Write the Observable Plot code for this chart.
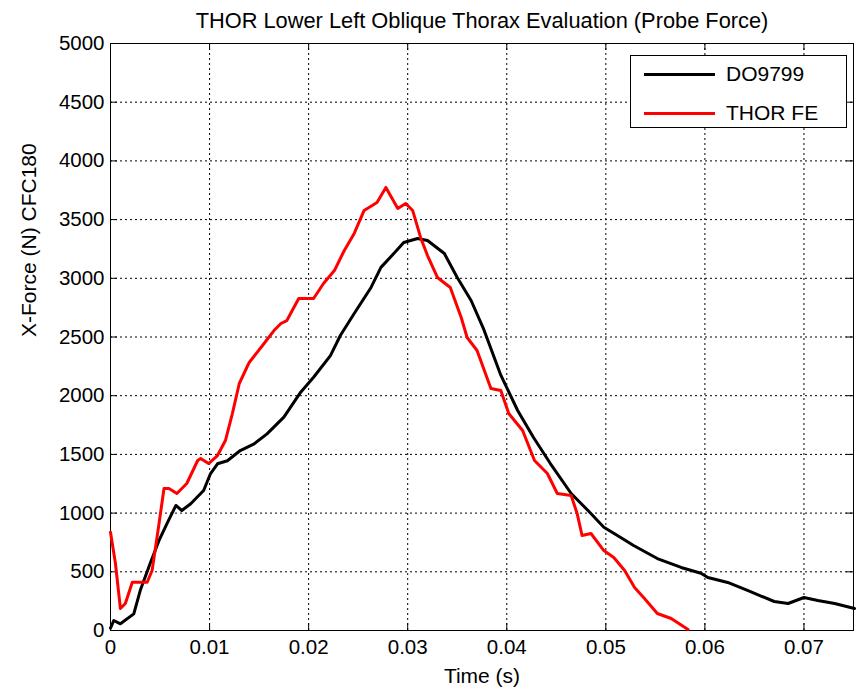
<!DOCTYPE html>
<html>
<head>
<meta charset="utf-8">
<script src="https://cdn.jsdelivr.net/npm/d3@7"></script>
<script src="https://cdn.jsdelivr.net/npm/@observablehq/plot@0.6"></script>
<style>
  html, body { margin: 0; padding: 0; background: #fff; }
  #wrap { position: relative; width: 860px; height: 691px; font-family: "Liberation Sans", Arial, sans-serif; }
  #legend { position: absolute; left: 630px; top: 55px; width: 215px; height: 71px; border: 1.5px solid #000; background: #fff; }
  .row { position: absolute; left: 0; height: 24px; display: flex; align-items: center; }
  .sw { width: 71px; height: 3px; margin-left: 13px; margin-right: 11px; }
  .lab { font-size: 21px; color: #000; }
</style>
</head>
<body>
<div id="wrap">
  <div id="chart"></div>
  <div id="legend">
    <div class="row" style="top:6px"><div class="sw" style="background:#000"></div><div class="lab">DO9799</div></div>
    <div class="row" style="top:45px"><div class="sw" style="background:#f00"></div><div class="lab">THOR FE</div></div>
  </div>
</div>
<script>
const titleText = "THOR Lower Left Oblique Thorax Evaluation (Probe Force)";
const xLabel = "Time (s)";
const yLabel = "X-Force (N) CFC180";
const xTicks = [0, 0.01, 0.02, 0.03, 0.04, 0.05, 0.06, 0.07];
const yTicks = [0, 500, 1000, 1500, 2000, 2500, 3000, 3500, 4000, 4500, 5000];

// DO9799 (black)
const doTime = [0, 0.00033, 0.001, 0.00235, 0.003, 0.004, 0.0049, 0.0057, 0.0066, 0.0072, 0.0081, 0.0094, 0.0101, 0.0108, 0.0118, 0.0131, 0.0145, 0.0158, 0.0175, 0.0192, 0.0205, 0.0222, 0.0232, 0.0246, 0.0263, 0.0273, 0.0286, 0.0296, 0.031, 0.032, 0.0337, 0.035, 0.0364, 0.0377, 0.0394, 0.0411, 0.0427, 0.0444, 0.0465, 0.0482, 0.0498, 0.0515, 0.0528, 0.0552, 0.0576, 0.0596, 0.0603, 0.0623, 0.0643, 0.067, 0.0684, 0.07, 0.0714, 0.0731, 0.0751];
const doForce = [20, 85, 57, 142, 340, 570, 767, 910, 1065, 1022, 1080, 1192, 1337, 1420, 1446, 1533, 1590, 1675, 1817, 2030, 2157, 2342, 2513, 2700, 2922, 3093, 3211, 3305, 3339, 3322, 3211, 3007, 2811, 2560, 2175, 1874, 1644, 1422, 1167, 1022, 880, 792, 724, 613, 537, 488, 452, 409, 341, 247, 230, 281, 256, 230, 187];

// THOR FE (red)
const feTime = [0, 0.0005, 0.001, 0.0015, 0.0022, 0.0037, 0.0042, 0.0049, 0.0054, 0.0059, 0.0067, 0.0077, 0.0088, 0.0091, 0.0099, 0.0108, 0.0116, 0.0123, 0.013, 0.014, 0.0155, 0.0165, 0.0172, 0.0178, 0.019, 0.0205, 0.0215, 0.0226, 0.0236, 0.0246, 0.0256, 0.0269, 0.0278, 0.029, 0.0298, 0.0305, 0.0313, 0.032, 0.033, 0.0343, 0.0354, 0.036, 0.037, 0.0384, 0.0394, 0.0402, 0.0416, 0.0428, 0.0441, 0.0451, 0.0465, 0.0471, 0.0476, 0.0485, 0.0498, 0.0508, 0.0519, 0.0529, 0.0539, 0.0552, 0.0566, 0.0583];
const feForce = [837, 571, 187, 230, 411, 411, 511, 911, 1210, 1210, 1167, 1252, 1448, 1465, 1422, 1490, 1618, 1848, 2104, 2283, 2445, 2555, 2615, 2640, 2828, 2828, 2956, 3066, 3237, 3382, 3578, 3646, 3774, 3595, 3637, 3578, 3348, 3194, 3007, 2922, 2666, 2496, 2385, 2061, 2044, 1848, 1704, 1448, 1337, 1167, 1150, 997, 809, 826, 681, 622, 511, 366, 273, 145, 102, 9];

const doData = doTime.map((t, i) => ({t, f: doForce[i]}));
const feData = feTime.map((t, i) => ({t, f: feForce[i]}));

const fontFam = "'Liberation Sans', Arial, sans-serif";
const fmtX = d => d === 0 ? "0" : String(d);
const fmtY = d => String(d);
const chart = Plot.plot({
  width: 860,
  height: 691,
  marginLeft: 110,
  marginRight: 7,
  marginTop: 43,
  marginBottom: 61,
  style: {fontFamily: fontFam, fontSize: "20px", color: "#000", background: "#fff", overflow: "visible"},
  x: {domain: [0, 0.075], ticks: xTicks, tickFormat: fmtX},
  y: {domain: [0, 5000], ticks: yTicks, tickFormat: fmtY},
  marks: [
    Plot.gridX(xTicks, {stroke: "#000", strokeOpacity: 1, strokeDasharray: "2,3", strokeWidth: 1}),
    Plot.gridY(yTicks, {stroke: "#000", strokeOpacity: 1, strokeDasharray: "2,3", strokeWidth: 1}),
    Plot.tickX(xTicks, {x: d => d, insetTop: 580, stroke: "#000"}),
    Plot.tickX(xTicks, {x: d => d, insetBottom: 580, stroke: "#000"}),
    Plot.tickY(yTicks, {y: d => d, insetRight: 736, stroke: "#000"}),
    Plot.tickY(yTicks, {y: d => d, insetLeft: 736, stroke: "#000"}),
    Plot.axisX(xTicks, {tickSize: 0, tickPadding: 9, label: null, fontSize: 20.5, tickFormat: fmtX}),
    Plot.axisY(yTicks, {tickSize: 0, tickPadding: 6, label: null, fontSize: 20.5, tickFormat: fmtY}),
    Plot.frame({stroke: "#000", strokeWidth: 1}),
    Plot.line(doData, {x: "t", y: "f", stroke: "#000", strokeWidth: 3}),
    Plot.line(feData, {x: "t", y: "f", stroke: "#f00", strokeWidth: 3}),
    Plot.text([titleText], {frameAnchor: "top", dy: -31, fontSize: 21.8, fill: "#000"}),
    Plot.text([xLabel], {frameAnchor: "bottom", dy: 52, fontSize: 21, fill: "#000"}),
    Plot.text([yLabel], {frameAnchor: "left", dx: -81, rotate: -90, fontSize: 21, fill: "#000"})
  ]
});
document.getElementById("chart").appendChild(chart);
</script>
</body>
</html>
